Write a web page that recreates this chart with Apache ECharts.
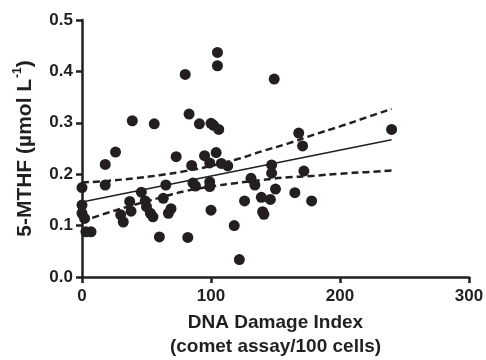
<!DOCTYPE html>
<html>
<head>
<meta charset="utf-8">
<script src="https://cdn.jsdelivr.net/npm/echarts@6/dist/echarts.min.js"></script>
<style>
  html, body { margin: 0; padding: 0; background: #fff; }
  #chart { width: 486px; height: 360px; }
</style>
</head>
<body>
<div id="chart"></div>
<script>
// DNA damage index (comet assay/100 cells) per subject
const damageIndex = [
  0, 0, 0, 2, 3, 7, 18, 18, 26, 30, 32, 37, 38, 39,
  46, 49, 50, 53, 55, 56, 60, 63, 65, 67, 69, 73,
  80, 82, 83, 85, 86, 88, 91, 95, 99, 99, 99, 100, 100, 102,
  104, 105, 105, 106, 108, 113, 118, 122, 126, 131, 134, 139, 140, 141,
  146, 147, 147, 149, 150, 165, 168, 171, 172, 178, 240
]
// 5-MTHF (umol/L) per subject
const mthf = [
  0.174, 0.140, 0.124, 0.114, 0.088, 0.088, 0.179, 0.219, 0.243, 0.121, 0.107, 0.147, 0.128, 0.304,
  0.165, 0.148, 0.137, 0.124, 0.117, 0.298, 0.078, 0.153, 0.179, 0.124, 0.133, 0.234,
  0.394, 0.077, 0.317, 0.217, 0.183, 0.177, 0.298, 0.236, 0.222, 0.185, 0.176, 0.130, 0.299, 0.295,
  0.242, 0.437, 0.411, 0.287, 0.221, 0.216, 0.100, 0.034, 0.148, 0.192, 0.179, 0.155, 0.127, 0.122,
  0.151, 0.218, 0.202, 0.385, 0.171, 0.164, 0.280, 0.255, 0.206, 0.148, 0.287
]

// regression line end points
const fitX = [0, 240]
const fitY = [0.146, 0.267]

// 95% confidence band
const bandX = [0, 20, 40, 60, 80, 100, 120, 140, 160, 180, 200, 220, 240]
const bandUpper = [0.184, 0.187, 0.192, 0.198, 0.206, 0.216, 0.229, 0.245, 0.260, 0.277, 0.293, 0.310, 0.327]
const bandLower = [0.108, 0.125, 0.140, 0.154, 0.167, 0.176, 0.183, 0.189, 0.194, 0.197, 0.201, 0.204, 0.207]

const ink = '#231f20'
const font = '"Liberation Sans", Arial, sans-serif'

const chart = echarts.init(document.getElementById('chart'))

const pair = (xs, ys) => xs.map((x, i) => [x, ys[i]])

const axisCommon = {
  axisLine: { show: true, onZero: false, lineStyle: { color: ink, width: 2.5 } },
  axisTick: { show: true, inside: false, length: 6, lineStyle: { color: ink, width: 2.5 } },
  splitLine: { show: false },
  axisLabel: { color: ink, fontFamily: font, fontWeight: 'bold', fontSize: 17 }
}

chart.setOption({
  animation: false,
  grid: { left: 82, right: 17, top: 20, bottom: 83, outerBoundsMode: 'none', containLabel: false },
  xAxis: {
    type: 'value',
    min: 0,
    max: 300,
    interval: 100,
    ...axisCommon,
    axisLabel: { ...axisCommon.axisLabel, margin: 11 },
    name: 'DNA Damage Index\n(comet assay/100 cells)',
    nameLocation: 'middle',
    nameGap: 34,
    nameTextStyle: {
      color: ink, fontFamily: font, fontWeight: 'bold', fontSize: 19,
      lineHeight: 24, verticalAlign: 'top'
    }
  },
  yAxis: {
    type: 'value',
    min: 0,
    max: 0.5,
    interval: 0.1,
    ...axisCommon,
    axisLabel: { ...axisCommon.axisLabel, margin: 9, formatter: v => v.toFixed(1) },
    name: '{a|5-MTHF (µmol L}{s|-1}{a|)}',
    nameLocation: 'middle',
    nameGap: 46,
    nameRotate: 90,
    nameTextStyle: {
      rich: {
        a: { color: ink, fontFamily: font, fontWeight: 'bold', fontSize: 21, lineHeight: 24, verticalAlign: 'bottom' },
        s: { color: ink, fontFamily: font, fontWeight: 'bold', fontSize: 12, lineHeight: 24, verticalAlign: 'top', padding: [0, 0, 0, 1] }
      }
    }
  },
  series: [
    {
      type: 'line',
      data: pair(bandX, bandUpper),
      smooth: true,
      symbol: 'none',
      lineStyle: { color: ink, width: 2.5, type: [7, 4] },
      z: 2
    },
    {
      type: 'line',
      data: pair(bandX, bandLower),
      smooth: true,
      symbol: 'none',
      lineStyle: { color: ink, width: 2.5, type: [7, 4] },
      z: 2
    },
    {
      type: 'line',
      data: pair(fitX, fitY),
      symbol: 'none',
      lineStyle: { color: ink, width: 1.6 },
      z: 2
    },
    {
      type: 'scatter',
      data: pair(damageIndex, mthf),
      symbol: 'circle',
      symbolSize: 11,
      itemStyle: { color: ink, opacity: 1 },
      z: 3
    }
  ]
})
</script>
</body>
</html>
